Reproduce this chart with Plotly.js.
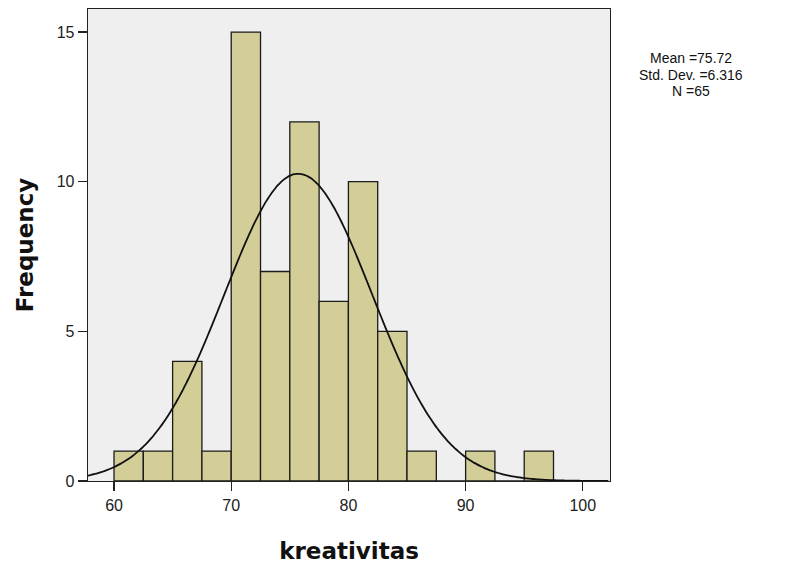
<!DOCTYPE html>
<html>
<head>
<meta charset="utf-8">
<script src="https://cdn.plot.ly/plotly-3.0.1.min.js"></script>
<style>html,body{margin:0;padding:0;background:#fff;}#chart{width:789px;height:570px;}</style>
</head>
<body>
<div id="chart"></div>
<script>
// Histogram bins (lower edges) and frequencies
const binStarts = [60, 62.5, 65, 67.5, 70, 72.5, 75, 77.5, 80, 82.5, 85, 87.5, 90, 92.5, 95];
const frequencies = [1, 1, 4, 1, 15, 7, 12, 6, 10, 5, 1, 0, 1, 0, 1];
const binWidth = 2.5;
// Summary statistics shown in the chart
const statMean = 75.72;
const statSD = 6.316;
const statN = 65;
const statLines = ['Mean =' + statMean, 'Std. Dev. =' + statSD, 'N =' + statN];
const xTicks = [60, 70, 80, 90, 100];
const yTicks = [0, 5, 10, 15];

// Fitted normal curve from the stated mean / SD, scaled to the histogram
const curveX = [];
const curveY = [];
for (let x = 57.78; x <= 102.32; x += 0.2) {
  const z = (x - statMean) / statSD;
  curveX.push(x);
  curveY.push(statN * binWidth * Math.exp(-0.5 * z * z) / (statSD * Math.sqrt(2 * Math.PI)));
}

const font = 'Arial, "Liberation Sans", sans-serif';
const titleFont = '"DejaVu Sans", Verdana, sans-serif';

const traces = [
  {
    type: 'bar',
    x: binStarts,
    y: frequencies,
    width: binWidth,
    offset: 0,
    marker: {color: '#d3ce97', line: {color: '#1a1a1a', width: 1.3}},
    hoverinfo: 'x+y'
  },
  {
    type: 'scatter',
    mode: 'lines',
    x: curveX,
    y: curveY,
    line: {color: '#111111', width: 1.8, shape: 'spline'},
    hoverinfo: 'skip'
  }
];

const statY = [0.8962, 0.8612, 0.8263];
const annotations = statLines.map((t, i) => ({
  xref: 'paper', yref: 'paper',
  x: 1.155, y: statY[i],
  xanchor: 'center', yanchor: 'middle',
  showarrow: false,
  text: t,
  font: {family: font, size: 14, color: '#111'}
}));

const layout = {
  width: 789,
  height: 570,
  margin: {l: 88, r: 179, t: 9, b: 89},
  paper_bgcolor: '#ffffff',
  plot_bgcolor: '#efefef',
  showlegend: false,
  bargap: 0,
  xaxis: {
    range: [57.78, 102.32],
    tickvals: xTicks,
    ticks: 'outside',
    ticklen: 9,
    tickwidth: 1.3,
    tickcolor: '#222',
    showgrid: false,
    zeroline: false,
    showline: true,
    linecolor: '#222',
    linewidth: 1.3,
    mirror: true,
    tickfont: {family: font, size: 16, color: '#222'},
    title: {text: '<b>kreativitas</b>', font: {family: titleFont, size: 23, color: '#111'}, standoff: 30}
  },
  yaxis: {
    range: [0, 15.77],
    tickvals: yTicks,
    ticks: 'outside',
    ticklen: 9,
    tickwidth: 1.3,
    tickcolor: '#222',
    showgrid: false,
    zeroline: false,
    showline: true,
    linecolor: '#222',
    linewidth: 1.3,
    mirror: true,
    tickfont: {family: font, size: 16, color: '#222'},
    title: {text: '<b>Frequency</b>', font: {family: titleFont, size: 23, color: '#111'}, standoff: 16}
  },
  annotations: annotations
};

Plotly.newPlot('chart', traces, layout, {displayModeBar: false, staticPlot: true});
</script>
</body>
</html>
